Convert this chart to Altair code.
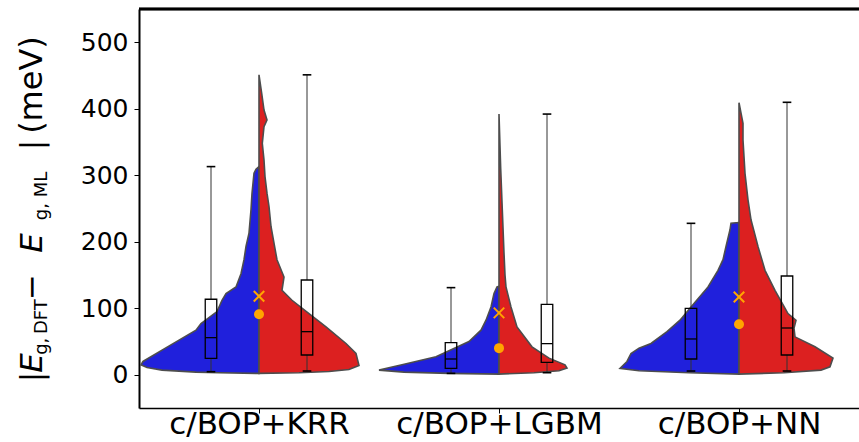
import altair as alt
import pandas as pd

models = ["c/BOP+KRR", "c/BOP+LGBM", "c/BOP+NN"]

# ---- split-violin half profiles: value (meV) and density (arbitrary units) ----
krr_blue_val = [2, 3, 4, 7, 11, 15, 20, 37, 52, 67, 77, 95, 112, 122, 132, 152, 173, 193, 213, 248, 273, 303, 309, 313]
krr_blue_den = [0, 40, 63, 97, 112, 118, 116, 97, 80, 63, 58, 42, 37, 33, 23, 18, 15, 13, 10, 8, 7, 5, 3, 0]
krr_red_val = [2, 3, 5, 8, 14, 32, 47, 72, 92, 112, 127, 147, 173, 198, 223, 253, 273, 298, 323, 348, 373, 383, 398, 423, 451]
krr_red_den = [0, 40, 70, 90, 100, 97, 87, 67, 50, 33, 23, 25, 18, 15, 12, 10, 8, 6, 5, 3.3, 5, 8, 5, 2.7, 0]

lgbm_blue_val = [1, 2, 4, 7, 15, 27, 45, 50, 67, 82, 102, 122, 132, 133]
lgbm_blue_den = [0, 50, 95, 120, 97, 63, 37, 30, 18, 13, 8, 5, 2, 0]
lgbm_red_val = [1, 3, 6, 10, 15, 25, 42, 72, 102, 132, 150, 183, 248, 310, 392]
lgbm_red_den = [0, 35, 60, 68, 66, 50, 33, 18, 12, 7, 6, 5, 3.3, 1.7, 0]

nn_blue_val = [1, 3, 6, 9.6, 20, 32, 40, 47, 65, 82, 102, 132, 157, 173, 193, 218, 228, 229]
nn_blue_den = [0, 50, 100, 119, 112, 108, 100, 88, 72, 59, 48, 31, 21, 16, 13, 9, 8, 0]
nn_red_val = [1, 3, 7, 12, 25, 42, 57, 70, 82, 92, 127, 157, 193, 233, 263, 303, 353, 378, 409]
nn_red_den = [0, 45, 82, 91, 94, 76, 56, 55, 57, 49, 36, 26, 19, 12, 9, 6, 4, 4, 0]

# ---- box statistics (blue side, red side) ----
blue_lo = [4.6, 2.1, 5.6]
blue_q1 = [24.7, 9.6, 23.7]
blue_med = [55.8, 23.7, 53.8]
blue_q3 = [113.5, 48.3, 99.9]
blue_hi = [313, 131, 227.7]
red_lo = [5.6, 3.1, 5.6]
red_q1 = [29.7, 18.6, 29.7]
red_med = [64.8, 46.8, 70.3]
red_q3 = [142.5, 105.9, 148.5]
red_hi = [451, 392, 409.7]

# ---- orange markers ----
cross_val = [118, 93, 117]
circle_val = [91, 40, 76]

# ---------------- build tables ----------------
DENS_TO_X = 1.0 / 240.0   # density units -> category units
BOX_OFF = 0.2
BOX_HW = 0.024
CAP_HW = 0.018

profiles = [
    (0, "blue", krr_blue_val, krr_blue_den), (0, "red", krr_red_val, krr_red_den),
    (1, "blue", lgbm_blue_val, lgbm_blue_den), (1, "red", lgbm_red_val, lgbm_red_den),
    (2, "blue", nn_blue_val, nn_blue_den), (2, "red", nn_red_val, nn_red_den),
]
vrows = []
for i, side, vals, dens in profiles:
    sgn = -1 if side == "blue" else 1
    for v, d in zip(vals, dens):
        vrows.append(dict(grp=f"{i}-{side}", side=side, idx=i, value=v,
                          edge=i + sgn * d * DENS_TO_X))
vdf = pd.DataFrame(vrows)

brows = []
for i in range(3):
    for side, lo, q1, med, q3, hi in [
        ("blue", blue_lo[i], blue_q1[i], blue_med[i], blue_q3[i], blue_hi[i]),
        ("red", red_lo[i], red_q1[i], red_med[i], red_q3[i], red_hi[i]),
    ]:
        c = i + (-BOX_OFF if side == "blue" else BOX_OFF)
        brows.append(dict(c=c, l=c - BOX_HW, r=c + BOX_HW, cl=c - CAP_HW, cr=c + CAP_HW,
                          lo=lo, q1=q1, med=med, q3=q3, hi=hi))
bdf = pd.DataFrame(brows)

mdf = pd.DataFrame(dict(idx=[0, 1, 2], cross=cross_val, circle=circle_val))

label_expr = "[" + ",".join(f"'{m}'" for m in models) + "][datum.value]"
xax = alt.Axis(values=[0, 1, 2], labelExpr=label_expr, title=None, grid=False,
               tickSize=5, tickColor="black", domainColor="black", domainWidth=1.5,
               labelFontSize=31, labelColor="black", labelFont="DejaVu Sans",
               labelPadding=-4, labelLimit=0, labelOverlap=False)
yax = alt.Axis(values=[0, 100, 200, 300, 400, 500], title=None, grid=False,
               tickSize=5, tickColor="black", domainColor="black", domainWidth=2,
               labelFontSize=25, labelColor="black", labelFont="DejaVu Sans",
               labelPadding=6)
xs = alt.Scale(domain=[-0.5, 2.5], nice=False, zero=False)
ys = alt.Scale(domain=[-50, 550], nice=False, zero=False)

violins = alt.Chart(vdf).mark_area(orient="horizontal", stroke="#4d4d4d",
                                   strokeWidth=1.6, opacity=1).encode(
    x=alt.X("edge:Q", scale=xs, axis=xax),
    x2="idx:Q",
    y=alt.Y("value:Q", scale=ys, axis=yax),
    color=alt.Color("side:N", scale=alt.Scale(domain=["blue", "red"],
                                              range=["#2020DC", "#DC2020"]), legend=None),
    detail="grp:N",
)

base_b = alt.Chart(bdf)
whisk_hi = base_b.mark_rule(color="#333333", strokeWidth=1).encode(
    x=alt.X("c:Q", scale=xs, axis=xax), y=alt.Y("q3:Q", scale=ys, axis=yax), y2="hi:Q")
whisk_lo = base_b.mark_rule(color="#333333", strokeWidth=1).encode(
    x=alt.X("c:Q", scale=xs, axis=xax), y=alt.Y("lo:Q", scale=ys, axis=yax), y2="q1:Q")
cap_hi = base_b.mark_rule(color="black", strokeWidth=1.6).encode(
    x=alt.X("cl:Q", scale=xs, axis=xax), x2="cr:Q", y=alt.Y("hi:Q", scale=ys, axis=yax))
cap_lo = base_b.mark_rule(color="black", strokeWidth=1.6).encode(
    x=alt.X("cl:Q", scale=xs, axis=xax), x2="cr:Q", y=alt.Y("lo:Q", scale=ys, axis=yax))
boxes = base_b.mark_rect(fillOpacity=0, stroke="black", strokeWidth=1.3).encode(
    x=alt.X("l:Q", scale=xs, axis=xax), x2="r:Q",
    y=alt.Y("q1:Q", scale=ys, axis=yax), y2="q3:Q")
medians = base_b.mark_rule(color="black", strokeWidth=1.3).encode(
    x=alt.X("l:Q", scale=xs, axis=xax), x2="r:Q", y=alt.Y("med:Q", scale=ys, axis=yax))

crosses = alt.Chart(mdf).mark_point(shape="M-1,-1L1,1M-1,1L1,-1", size=110,
                                    color="#FFA500", strokeWidth=2, filled=False,
                                    opacity=1).encode(
    x=alt.X("idx:Q", scale=xs, axis=xax), y=alt.Y("cross:Q", scale=ys, axis=yax))
circles = alt.Chart(mdf).mark_point(shape="circle", size=100, color="#FFA500",
                                    filled=True, opacity=1).encode(
    x=alt.X("idx:Q", scale=xs, axis=xax), y=alt.Y("circle:Q", scale=ys, axis=yax))

top_border = alt.Chart(mdf).mark_rule(color="black", strokeWidth=2.5).encode(
    y=alt.datum(550))

# ---- y-axis title built from pieces (rotated) ----
MAIN_X = -97
SUB_X = -92
def piece(text, y, size, italic=False, sub=False):
    return alt.Chart(pd.DataFrame({"t": [text]})).mark_text(
        angle=270, align="center", baseline="alphabetic", fontSize=size,
        font="DejaVu Sans", fontStyle="italic" if italic else "normal", color="black"
    ).encode(text="t:N", x=alt.value(SUB_X if sub else MAIN_X), y=alt.value(y))

title_parts = [
    piece("|", 368, 31),
    piece("E", 354, 31, italic=True),
    piece("g,\u2009DFT", 318, 18, sub=True),
    piece("\u2212", 278, 31),
    piece("E", 234, 31, italic=True),
    piece("g, ML", 187, 18, sub=True),
    piece("|", 136, 31),
    piece("(meV)", 76, 32),
]

chart = alt.layer(
    violins, whisk_hi, whisk_lo, cap_hi, cap_lo, boxes, medians, crosses, circles,
    top_border, *title_parts
).properties(
    width=720, height=399,
    autosize=alt.AutoSizeParams(type="none"),
    padding={"left": 139, "top": 9, "right": 0, "bottom": 34},
    background="white",
).configure_view(stroke=None)

chart.save("out.html", embed_options={"renderer": "svg", "actions": False})
